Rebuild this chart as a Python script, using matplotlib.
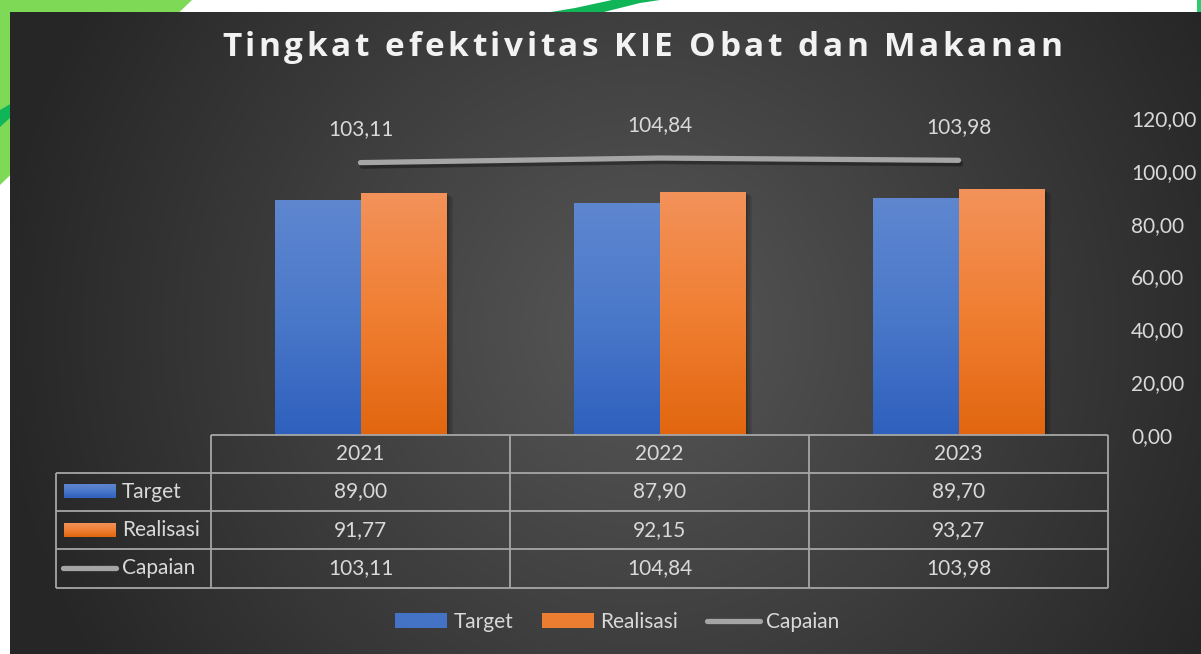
import numpy as np
import matplotlib
matplotlib.use("Agg")
import matplotlib.pyplot as plt
from matplotlib.patches import Rectangle, Polygon, Patch
from matplotlib.lines import Line2D
from matplotlib.colors import LinearSegmentedColormap, to_rgb
from matplotlib.font_manager import FontProperties
from matplotlib import patheffects

# data
years = ["2021", "2022", "2023"]
target = [89.00, 87.90, 89.70]
realisasi = [91.77, 92.15, 93.27]
capaian = [103.11, 104.84, 103.98]
series_names = ["Target", "Realisasi", "Capaian"]
yticks = [0, 20, 40, 60, 80, 100, 120]

title = "Tingkat efektivitas KIE Obat dan Makanan"

BLUE = "#4472c4"
ORANGE = "#ed7d31"
GRAY = "#a5a5a5"
TXT = "#d9d9d9"
blue_cmap = LinearSegmentedColormap.from_list("blue", ["#2e60be", "#4a78c9", "#5f87d0"])
orange_cmap = LinearSegmentedColormap.from_list("orange", ["#e2660f", "#f07f33", "#f3925a"])


def fmt(v):
    return f"{v:.2f}".replace(".", ",")


W, H = 1201, 654
fig = plt.figure(figsize=(W / 100, H / 100), dpi=100, facecolor="white")


def pixel_axes(z):
    a = fig.add_axes([0, 0, 1, 1], zorder=z)
    a.set_xlim(0, W)
    a.set_ylim(H, 0)
    a.axis("off")
    a.patch.set_alpha(0)
    return a


# backdrop: green decoration and dark panel with a radial glow
bg = pixel_axes(0)
deco = dict(ec="none", zorder=0)
bg.add_patch(Polygon([(0, 0), (192, 0), (0, 185)], fc="#7ed957", **deco))
bg.add_patch(Polygon([(0, 110), (12, 103), (12, 116), (0, 127)], fc="#10b558", **deco))
bg.add_patch(Polygon([(545, 13), (600, 13), (640, 3), (660, 0), (612, 0), (575, 8)],
                     fc="#10b558", **deco))
bg.add_patch(Rectangle((1197, 0), 4, 13, fc="#2ecc71", **deco))

yy, xx = np.mgrid[12:H, 10:W]
d = np.sqrt(((xx - 640) / 650.0) ** 2 + ((yy - 330) / 640.0) ** 2)
d = np.clip(d, 0, 1)
c0, c1 = np.array(to_rgb("#575757")), np.array(to_rgb("#262626"))
glow = c0[None, None, :] * (1 - d[..., None]) + c1[None, None, :] * d[..., None]
bg.imshow(glow, extent=[10, W, H, 12], aspect="auto", interpolation="bilinear", zorder=1)
bg.set_xlim(0, W)
bg.set_ylim(H, 0)

# main plot
ax = fig.add_axes([211 / W, 1 - 435 / H, (1108 - 211) / W, (435 - 118) / H], zorder=1)
ax.set_facecolor("none")
x = np.arange(len(years))
w = 86 / 299
soft_shadow = [patheffects.SimplePatchShadow(offset=(o, -o * 0.7), shadow_rgbFace="black", alpha=0.1)
               for o in (1, 2, 3, 4.5)] + [patheffects.Normal()]
bars_t = ax.bar(x - w / 2, target, w, color=BLUE, zorder=2, path_effects=soft_shadow)
bars_r = ax.bar(x + w / 2, realisasi, w, color=ORANGE, zorder=2, path_effects=soft_shadow)

grad = np.linspace(0, 1, 256).reshape(-1, 1)
for bars, cmap in ((bars_t, blue_cmap), (bars_r, orange_cmap)):
    for rect in bars:
        x0, y0 = rect.get_x(), rect.get_y()
        im = ax.imshow(grad, extent=[x0, x0 + rect.get_width(), y0, y0 + rect.get_height()],
                       origin="lower", aspect="auto", cmap=cmap, zorder=2.5)
        im.set_clip_path(rect)

ax.plot(x, capaian, color=GRAY, lw=3.8, solid_capstyle="round", zorder=4,
        path_effects=[patheffects.SimpleLineShadow(offset=(1.5, -2.5), alpha=0.35, shadow_color="black"),
                      patheffects.Normal()])
for xi, v in zip(x, capaian):
    ax.annotate(fmt(v), (xi, v), xytext=(0, 24), textcoords="offset points",
                ha="center", va="center", color=TXT, fontsize=15, family="Lato",
                annotation_clip=False)

ax.set_xlim(-0.5, len(years) - 0.5)
ax.set_ylim(0, 120)
ax.set_xticks([])
ax.yaxis.tick_right()
ax.set_yticks(yticks)
ax.set_yticklabels([fmt(t) for t in yticks], color=TXT, fontsize=15, family="Lato")
ax.tick_params(axis="y", length=0, pad=16.5)
for s in ax.spines.values():
    s.set_visible(False)

# overlay: title and data table
ov = pixel_axes(3)
renderer = fig.canvas.get_renderer()
tfp = FontProperties(family="Open Sans", weight="bold", size=24)


def text_width(s):
    t = ov.text(0, 0, s, fontproperties=tfp)
    wd = t.get_window_extent(renderer=renderer).width
    t.remove()
    return wd


base = text_width("II")
adv = [text_width("I" + ch + "I") - base for ch in title]
spacing = (840 - sum(adv)) / (len(title) - 1)
cx = 222
for ch, a in zip(title, adv):
    ov.text(cx, 56, ch, fontproperties=tfp, color="#f2f2f2", ha="left", va="baseline")
    cx += a + spacing

col_edges = [ax.transData.transform((e, 0))[0] for e in np.arange(len(years) + 1) - 0.5]
col_mid = [ax.transData.transform((xi, 0))[0] for xi in x]
rows = [435, 472.5, 510.5, 549, 587.5]
lab_left = 56
line_kw = dict(color="#a6a6a6", lw=1.3, solid_capstyle="butt")

ov.plot([col_edges[0], col_edges[-1]], [rows[0], rows[0]], **line_kw)
for r in rows[1:]:
    ov.plot([lab_left, col_edges[-1]], [r, r], **line_kw)
ov.plot([lab_left, lab_left], [rows[1], rows[-1]], **line_kw)
for e in col_edges:
    ov.plot([e, e], [rows[0], rows[-1]], **line_kw)

tkw = dict(color=TXT, fontsize=15, family="Lato", va="center")
for xm, yr in zip(col_mid, years):
    ov.text(xm, (rows[0] + rows[1]) / 2, yr, ha="center", **tkw)
for i, vals in enumerate((target, realisasi, capaian)):
    ym = (rows[i + 1] + rows[i + 2]) / 2
    for xm, v in zip(col_mid, vals):
        ov.text(xm, ym, fmt(v), ha="center", **tkw)
    ov.text(122, ym, series_names[i], ha="left", **tkw)

# legend keys inside the row label column
for i, cmap in enumerate((blue_cmap, orange_cmap)):
    ym = (rows[i + 1] + rows[i + 2]) / 2
    ov.imshow(grad, extent=[64, 116, ym + 7, ym - 7], origin="lower", aspect="auto", cmap=cmap)
ym = (rows[3] + rows[4]) / 2
ov.plot([63, 116], [ym, ym], color=GRAY, lw=3.8, solid_capstyle="round")
ov.set_xlim(0, W)
ov.set_ylim(H, 0)

handles = [Patch(fc=BLUE, ec="none"), Patch(fc=ORANGE, ec="none"),
           Line2D([], [], color=GRAY, lw=3.8, solid_capstyle="round")]
fig.legend(handles, series_names, loc="center", bbox_to_anchor=(617 / W, 1 - 622 / H),
           ncol=3, frameon=False, prop={"family": "Lato", "size": 15}, labelcolor=TXT,
           handlelength=2.5, handleheight=0.7, handletextpad=0.3, columnspacing=1.4)

fig.savefig("out.png", dpi=100, facecolor="white")
